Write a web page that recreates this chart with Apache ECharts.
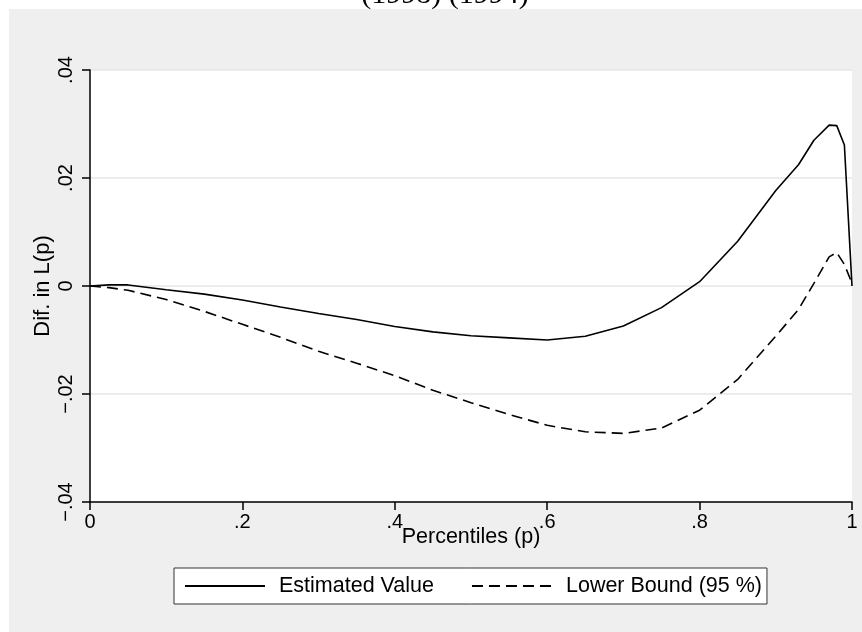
<!DOCTYPE html>
<html>
<head>
<meta charset="utf-8">
<script src="https://cdn.jsdelivr.net/npm/echarts@6/dist/echarts.min.js"></script>
<style>
  html, body { margin: 0; padding: 0; background: #fff; }
  #main { width: 862px; height: 632px; }
</style>
</head>
<body>
<div id="main"></div>
<script>
var dom = document.getElementById("main");
var myChart = echarts.init(dom);

// percentiles where the curves are read
var percentiles = [0, 0.025, 0.05, 0.1, 0.15, 0.2, 0.25, 0.3, 0.35, 0.4, 0.45, 0.5, 0.55,
    0.6, 0.65, 0.7, 0.75, 0.8, 0.85, 0.9, 0.93, 0.95, 0.97, 0.98, 0.99, 1];

var estimated = [0, 0.0002, 0.0002, -0.0007, -0.0015, -0.0026, -0.0039, -0.0051, -0.0062,
    -0.0075, -0.0085, -0.0092, -0.0096, -0.0100, -0.0093, -0.0074, -0.0040, 0.0008,
    0.0083, 0.0177, 0.0225, 0.0270, 0.0298, 0.0297, 0.0261, 0];

var lowerBound = [0, -0.0003, -0.0008, -0.0025, -0.0047, -0.0071, -0.0095, -0.0121, -0.0143,
    -0.0166, -0.0193, -0.0216, -0.0238, -0.0258, -0.0270, -0.0273, -0.0263, -0.0230,
    -0.0173, -0.0093, -0.0043, 0.0005, 0.0054, 0.0062, 0.0040, 0.0005];

var xTickLabels = {'0': '0', '0.2': '.2', '0.4': '.4', '0.6': '.6', '0.8': '.8', '1': '1'};
var yTickLabels = {'-0.04': '\u2212.04', '-0.02': '\u2212.02', '0': '0', '0.02': '.02', '0.04': '.04'};

var pairs = function (ys) {
    var res = [];
    for (var i = 0; i < percentiles.length; i++) {
        res.push([percentiles[i], ys[i]]);
    }
    return res;
};

var font = 'Liberation Sans, Arial, sans-serif';

option = {
    backgroundColor: '#ffffff',
    animation: false,
    graphic: [
        {
            type: 'rect',
            z: -10,
            shape: {x: 9, y: 9, width: 853, height: 623},
            style: {fill: '#efefef'}
        },
        {
            type: 'text',
            x: 445,
            y: 10,
            style: {
                text: '(1998) (1994)',
                fontFamily: 'Liberation Serif, Times New Roman, serif',
                fontSize: 30,
                fill: '#000',
                textAlign: 'center',
                textVerticalAlign: 'bottom'
            }
        }
    ],
    grid: {
        left: 90,
        top: 70,
        right: 10,
        bottom: 130,
        show: true,
        backgroundColor: '#ffffff',
        borderWidth: 0
    },
    legend: {
        left: 174,
        top: 568,
        orient: 'horizontal',
        backgroundColor: '#ffffff',
        borderColor: '#333333',
        borderWidth: 1,
        borderRadius: 0,
        padding: [7, 5, 7, 10],
        itemWidth: 80,
        itemHeight: 14,
        itemGap: 37,
        itemStyle: {opacity: 0},
        textStyle: {
            fontFamily: font,
            fontSize: 21.5,
            color: '#000',
            padding: [0, 0, 0, 9]
        },
        data: ['Estimated Value', 'Lower Bound (95 %)']
    },
    xAxis: {
        type: 'value',
        min: 0,
        max: 1,
        interval: 0.2,
        name: 'Percentiles (p)',
        nameLocation: 'middle',
        nameGap: 24,
        nameMoveOverlap: false,
        nameTextStyle: {fontFamily: font, fontSize: 21.5, color: '#000'},
        axisLine: {show: true, onZero: false, lineStyle: {color: '#000', width: 1.5}},
        axisTick: {show: true, length: 8, lineStyle: {color: '#000', width: 1.5}},
        axisLabel: {
            margin: 10,
            fontFamily: font,
            fontSize: 20,
            color: '#000',
            formatter: function (v) {
                return xTickLabels[String(Math.round(v * 10) / 10)];
            }
        },
        splitLine: {show: false}
    },
    yAxis: {
        type: 'value',
        min: -0.04,
        max: 0.04,
        interval: 0.02,
        name: 'Dif. in L(p)',
        nameLocation: 'middle',
        nameRotate: 90,
        nameGap: 36,
        nameMoveOverlap: false,
        nameTextStyle: {fontFamily: font, fontSize: 22, color: '#000'},
        axisLine: {show: true, onZero: false, lineStyle: {color: '#000', width: 1.5}},
        axisTick: {show: true, length: 8, lineStyle: {color: '#000', width: 1.5}},
        axisLabel: {
            rotate: 90,
            margin: 14,
            fontFamily: font,
            fontSize: 20,
            color: '#000',
            formatter: function (v) {
                return yTickLabels[String(Math.round(v * 100) / 100)];
            }
        },
        splitLine: {show: true, lineStyle: {color: '#e6e6e6', width: 1.5}}
    },
    series: [
        {
            name: 'Estimated Value',
            type: 'line',
            data: pairs(estimated),
            symbol: 'none',
            smooth: false,
            itemStyle: {color: '#000'},
            lineStyle: {color: '#000', width: 1.6}
        },
        {
            name: 'Lower Bound (95 %)',
            type: 'line',
            data: pairs(lowerBound),
            symbol: 'none',
            smooth: false,
            itemStyle: {color: '#000'},
            lineStyle: {color: '#000', width: 1.6, type: [11, 6]}
        }
    ]
};

if (option && typeof option === "object") {
    myChart.setOption(option, true);
}
</script>
</body>
</html>
